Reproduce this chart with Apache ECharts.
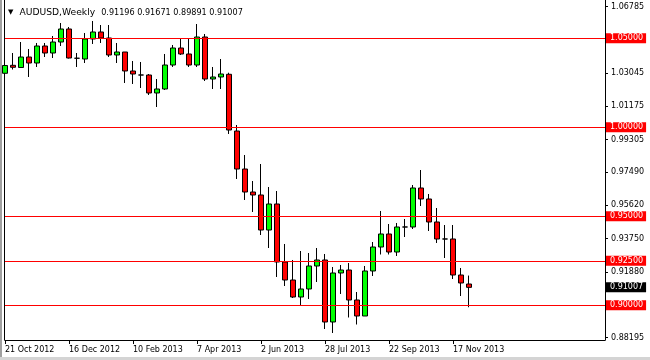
<!DOCTYPE html>
<html>
<head>
<meta charset="utf-8">
<script src="https://cdn.jsdelivr.net/npm/echarts@6/dist/echarts.min.js"></script>
<style>
  html, body { margin: 0; padding: 0; background: #ffffff; }
  #chart { width: 650px; height: 360px; }
</style>
</head>
<body>
<div id="chart"></div>
<script>
// ---- data (weekly AUDUSD candles) ----
const symbolTitle = 'AUDUSD,Weekly';
const lastOHLC = [0.91196, 0.91671, 0.89891, 0.91007];
const firstWeek = [2012, 9, 21];          // 21 Oct 2012
const totalSlots = 76;                     // chart width in weekly slots (incl. empty right margin)
const monthNames = ['Jan','Feb','Mar','Apr','May','Jun','Jul','Aug','Sep','Oct','Nov','Dec'];

const open = [
  1.03034, 1.03483, 1.03360, 1.03949, 1.03612, 1.04567, 1.04174, 1.04792, 1.05523, 1.03880,
  1.03837, 1.04961, 1.05354, 1.05017, 1.04062, 1.04230, 1.03163, 1.02938, 1.02938, 1.01927,
  1.02152, 1.03500, 1.04455, 1.04118, 1.03500, 1.05073, 1.02713, 1.02826, 1.02978, 0.99792,
  0.97657, 0.96365, 0.96197, 0.94230, 0.95691, 0.92433, 0.91421, 0.90466, 0.90916, 0.92208,
  0.92545, 0.89062, 0.91815, 0.91983, 0.90298, 0.89399, 0.91927, 0.93275, 0.94006, 0.92994,
  0.94399, 0.94399, 0.96590, 0.95972, 0.94680, 0.93725, 0.93725, 0.91702, 0.91196
];
const close = [
  1.03472, 1.03371, 1.03949, 1.03612, 1.04567, 1.04174, 1.04792, 1.05523, 1.03893, 1.03880,
  1.04961, 1.05354, 1.05017, 1.04062, 1.04230, 1.03163, 1.02994, 1.02938, 1.01927, 1.02152,
  1.03500, 1.04455, 1.04118, 1.03500, 1.05073, 1.02713, 1.02826, 1.02994, 0.99848, 0.97657,
  0.96365, 0.96197, 0.94230, 0.95691, 0.92433, 0.91421, 0.90466, 0.90916, 0.92208, 0.92545,
  0.89062, 0.91815, 0.91983, 0.90298, 0.89399, 0.91927, 0.93275, 0.94006, 0.92994, 0.94399,
  0.94399, 0.96590, 0.95972, 0.94680, 0.93725, 0.93725, 0.91702, 0.91253, 0.91007
];
const low = [
  1.02376, 1.03247, 1.03332, 1.02826, 1.03388, 1.03949, 1.03893, 1.04567, 1.03865, 1.03388,
  1.03612, 1.04680, 1.04736, 1.03949, 1.03612, 1.02489, 1.02433, 1.02208, 1.01815, 1.01140,
  1.02096, 1.03388, 1.04062, 1.03388, 1.03388, 1.02601, 1.02152, 1.02152, 0.99624, 0.97096,
  0.95916, 0.95242, 0.93949, 0.93219, 0.91590, 0.91084, 0.90410, 0.90017, 0.90354, 0.91309,
  0.88668, 0.88444, 0.90635, 0.89315, 0.88921, 0.89399, 0.91646, 0.92854, 0.92854, 0.92770,
  0.93837, 0.94286, 0.95579, 0.94174, 0.93500, 0.92657, 0.91477, 0.90522, 0.89891
];
const high = [
  1.03949, 1.04174, 1.04792, 1.04399, 1.04736, 1.04736, 1.05129, 1.05860, 1.05635, 1.04174,
  1.05298, 1.05972, 1.05747, 1.05747, 1.04736, 1.04230, 1.03725, 1.03669, 1.02994, 1.02713,
  1.04118, 1.04624, 1.04961, 1.04961, 1.05803, 1.05242, 1.03388, 1.03837, 1.03067, 1.00129,
  0.98444, 0.96983, 0.97938, 0.96646, 0.96421, 0.93444, 0.92545, 0.93050, 0.92938, 0.93219,
  0.92882, 0.92152, 0.92264, 0.92376, 0.90747, 0.92208, 0.93556, 0.95298, 0.94567, 0.94624,
  0.94848, 0.96758, 0.97601, 0.96253, 0.95466, 0.94511, 0.94511, 0.92095, 0.91671
];

const levels = [1.05, 1.00, 0.95, 0.925, 0.90];
const tickValues = [1.06785, 1.03045, 1.01175, 0.99305, 0.97490, 0.95620, 0.93750, 0.91880, 0.88195];
const lastPrice = 0.91007;
const yMax = 1.071517;
const yMin = 0.880505;

// ---- build ----
const categories = [];
const t0 = Date.UTC(firstWeek[0], firstWeek[1], firstWeek[2]);
for (let i = 0; i < totalSlots; i++) {
  const d = new Date(t0 + i * 7 * 86400000);
  categories.push(d.getUTCDate() + ' ' + monthNames[d.getUTCMonth()] + ' ' + d.getUTCFullYear());
}
const candles = open.map((o, i) => [o, close[i], low[i], high[i]]);
const labelValues = tickValues.concat(levels, [lastPrice]).sort((a, b) => b - a);

const FONT = 'DejaVu Sans';
const near = (a, b) => Math.abs(a - b) < 1e-9;
const showIdx = (i) => i % 8 === 0 && i < open.length;

const chart = echarts.init(document.getElementById('chart'), null, { renderer: 'canvas' });
chart.setOption({
  animation: false,
  backgroundColor: '#ffffff',
  title: {
    left: 8, top: 7, padding: 0,
    text: '{t|\u25BC}{n|' + symbolTitle + '}{v|' + lastOHLC.map(v => v.toFixed(5)).join(' ') + '}',
    textStyle: {
      fontWeight: 'normal', fontFamily: FONT, fontSize: 8,
      rich: {
        t: { fontFamily: FONT, fontWeight: 'normal', fontSize: 7, color: '#000', padding: [0, 6, 0, 0], lineHeight: 11 },
        n: { fontFamily: FONT, fontWeight: 'normal', fontSize: 9.2, color: '#000', padding: [0, 6, 0, 0], lineHeight: 11 },
        v: { fontFamily: FONT, fontWeight: 'normal', fontSize: 8.1, color: '#000', lineHeight: 11 }
      }
    }
  },
  grid: { left: 5, right: 45, top: 0, bottom: 20, containLabel: false },
  xAxis: {
    type: 'category',
    data: categories,
    boundaryGap: false,
    axisLine: { show: true, lineStyle: { color: '#000', width: 1 } },
    axisTick: { show: true, interval: showIdx, length: 4, lineStyle: { color: '#000' } },
    axisLabel: {
      interval: showIdx, align: 'left', margin: 6,
      fontFamily: FONT, fontSize: 8, color: '#000'
    },
    splitLine: { show: false }
  },
  yAxis: [
    {
      type: 'value', position: 'right', min: yMin, max: yMax, scale: true,
      axisLine: { show: true, lineStyle: { color: '#000', width: 1 } },
      axisTick: { show: true, customValues: tickValues, length: 3, inside: false, lineStyle: { color: '#000' } },
      axisLabel: {
        customValues: labelValues, margin: 1,
        formatter: (v) => {
          const s = v.toFixed(5);
          if (levels.some(l => near(l, v))) return '{r|' + s + '}';
          if (near(v, lastPrice)) return '{b|' + s + '}';
          return '{n|' + s + '}';
        },
        rich: {
          n: { fontFamily: FONT, fontSize: 8, color: '#000', padding: [0, 0, 0, 5] },
          r: { fontFamily: FONT, fontSize: 8, color: '#fff', backgroundColor: '#ff0000', padding: [1, 3, 1, 4], lineHeight: 9 },
          b: { fontFamily: FONT, fontSize: 8, color: '#fff', backgroundColor: '#000000', padding: [1, 3, 1, 4], lineHeight: 9 }
        }
      },
      splitLine: { show: false }
    },
    {
      type: 'value', position: 'left', offset: 1, min: yMin, max: yMax, scale: true,
      axisLine: { show: true, lineStyle: { color: '#000', width: 1 } },
      axisTick: { show: false }, axisLabel: { show: false }, splitLine: { show: false }
    }
  ],
  graphic: [
    { type: 'rect', left: 0, top: 0, shape: { width: 2, height: 360 }, style: { fill: '#a0a0a0' }, silent: true },
    { type: 'rect', left: 0, top: 357, shape: { width: 650, height: 3 }, style: { fill: '#d4d4d4' }, silent: true }
  ],
  series: [{
    type: 'candlestick',
    yAxisIndex: 0,
    data: candles,
    barWidth: 5,
    clip: true,
    emphasis: { disabled: true },
    itemStyle: {
      color: '#00ff00', color0: '#ff0000',
      borderColor: '#000', borderColor0: '#000', borderColorDoji: '#000',
      borderWidth: 1
    },
    markLine: {
      silent: true,
      precision: 5,
      symbol: ['none', 'none'],
      label: { show: false },
      lineStyle: { color: '#ff0000', width: 1, type: 'solid' },
      emphasis: { disabled: true },
      data: levels.map(v => ({ yAxis: v }))
    }
  }]
});
</script>
</body>
</html>
